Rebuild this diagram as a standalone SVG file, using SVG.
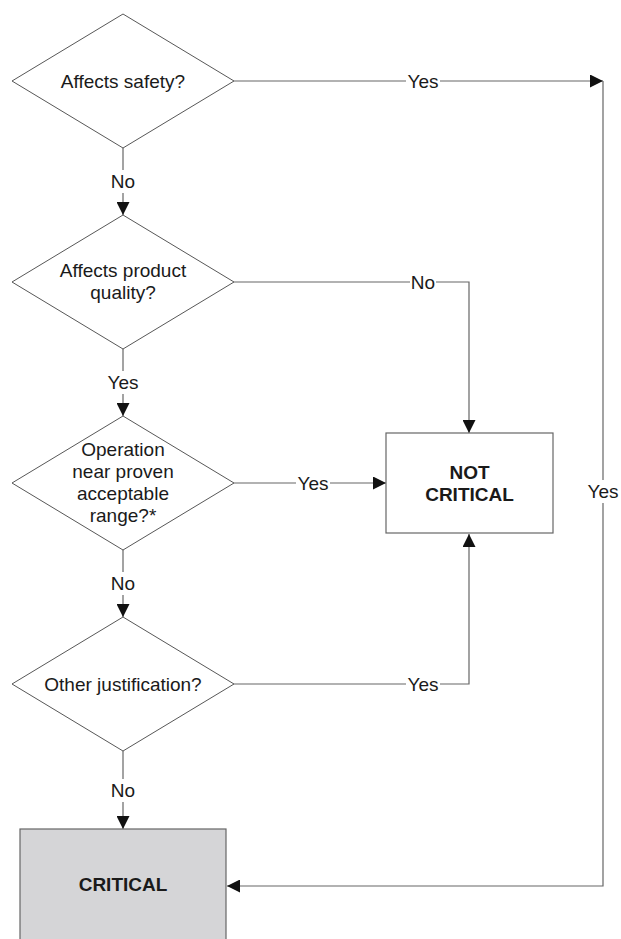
<svg xmlns="http://www.w3.org/2000/svg" width="621" height="939" viewBox="0 0 621 939">
<style>
  .dia { fill: #ffffff; stroke: #444444; stroke-width: 0.9; }
  .box { fill: #ffffff; stroke: #666666; stroke-width: 1.2; }
  .crit { fill: #d5d5d7; stroke: #666666; stroke-width: 1.2; }
  .txt { font-family: "Liberation Sans", Arial, sans-serif; font-size: 19px; fill: #1a1a1a; text-anchor: middle; }
  .bold { font-weight: bold; }
  .conn { fill: none; stroke: #666666; stroke-width: 1.2; }
  .lbg { fill: #ffffff; stroke: none; }
</style>
<defs>
  <marker id="arr" markerUnits="userSpaceOnUse" markerWidth="13" markerHeight="13" refX="13" refY="6.5" orient="auto">
    <path d="M0,0 L13,6.5 L0,13 z" fill="#111111"/>
  </marker>
</defs>
<rect width="621" height="939" fill="#ffffff"/>

<g id="connectors">
  <path class="conn" d="M234,81 H603" marker-end="url(#arr)"/>
  <path class="conn" d="M603,81 V886 H227" marker-end="url(#arr)"/>
  <path class="conn" d="M123,148 V215" marker-end="url(#arr)"/>
  <path class="conn" d="M234,282 H469 V433" marker-end="url(#arr)"/>
  <path class="conn" d="M123,349 V416" marker-end="url(#arr)"/>
  <path class="conn" d="M234,483 H386" marker-end="url(#arr)"/>
  <path class="conn" d="M123,550 V617" marker-end="url(#arr)"/>
  <path class="conn" d="M234,684 H469 V534" marker-end="url(#arr)"/>
  <path class="conn" d="M123,751 V829" marker-end="url(#arr)"/>

  <rect class="lbg" x="406" y="70" width="34" height="22"/>
  <text class="txt" x="423" y="88">Yes</text>
  <rect class="lbg" x="109" y="170" width="28" height="23"/>
  <text class="txt" x="123" y="188">No</text>
  <rect class="lbg" x="410" y="271" width="26" height="22"/>
  <text class="txt" x="423" y="289">No</text>
  <rect class="lbg" x="106" y="371" width="34" height="23"/>
  <text class="txt" x="123" y="389">Yes</text>
  <rect class="lbg" x="296" y="472" width="34" height="22"/>
  <text class="txt" x="313" y="490">Yes</text>
  <rect class="lbg" x="109" y="572" width="28" height="23"/>
  <text class="txt" x="123" y="590">No</text>
  <rect class="lbg" x="406" y="673" width="34" height="22"/>
  <text class="txt" x="423" y="691">Yes</text>
  <rect class="lbg" x="109" y="779" width="28" height="23"/>
  <text class="txt" x="123" y="797">No</text>
  <rect class="lbg" x="586" y="480" width="34" height="23"/>
  <text class="txt" x="603" y="498">Yes</text>
</g>

<g id="q-safety">
  <polygon class="dia" points="123,14 234,81 123,148 12,81"/>
  <text class="txt" x="123" y="88">Affects safety?</text>
</g>
<g id="q-quality">
  <polygon class="dia" points="123,215 234,282 123,349 12,282"/>
  <text class="txt" x="123" y="277">Affects product</text>
  <text class="txt" x="123" y="299">quality?</text>
</g>
<g id="q-range">
  <polygon class="dia" points="123,416 234,483 123,550 12,483"/>
  <text class="txt" x="123" y="456">Operation</text>
  <text class="txt" x="123" y="478">near proven</text>
  <text class="txt" x="123" y="500">acceptable</text>
  <text class="txt" x="123" y="522">range?*</text>
</g>
<g id="q-other">
  <polygon class="dia" points="123,617 234,684 123,751 12,684"/>
  <text class="txt" x="123" y="691">Other justification?</text>
</g>
<g id="not-critical">
  <rect class="box" x="386" y="433" width="167" height="100"/>
  <text class="txt bold" x="469.5" y="479">NOT</text>
  <text class="txt bold" x="469.5" y="501">CRITICAL</text>
</g>
<g id="critical">
  <rect class="crit" x="20" y="829" width="206" height="130"/>
  <text class="txt bold" x="123" y="891">CRITICAL</text>
</g>
</svg>
